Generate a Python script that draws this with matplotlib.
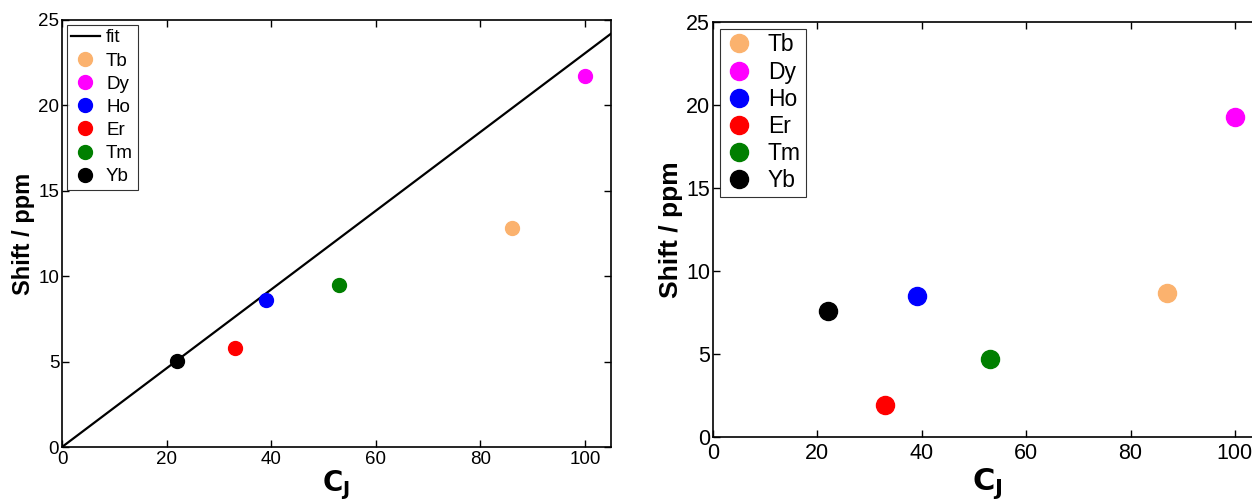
import numpy as np
import matplotlib
matplotlib.use('Agg')
import matplotlib.pyplot as plt

plt.rcParams['font.family'] = ['Liberation Sans', 'DejaVu Sans']

# data
ions = ['Tb', 'Dy', 'Ho', 'Er', 'Tm', 'Yb']
colors = ['#FBB26E', '#FF00FF', '#0000FF', '#FF0000', '#007F00', '#000000']
cj_left = [86, 100, 39, 33, 53, 22]
shift_left = [12.8, 21.7, 8.6, 5.8, 9.5, 5.05]
cj_right = [87, 100, 39, 33, 53, 22]
shift_right = [8.7, 19.3, 8.5, 1.9, 4.7, 7.6]
fit_x = [0, 105]
fit_y = [0, 24.2]

fig = plt.figure(figsize=(12.52, 5.0), dpi=100)
W, H = 1252.0, 500.0
ax1 = fig.add_axes([62 / W, 1 - 447 / H, (611 - 62) / W, (447 - 20) / H])
ax2 = fig.add_axes([713 / W, 1 - 437 / H, (1261 - 713) / W, (437 - 22) / H])


def style(ax, fs, lfs, xpad, tpad):
    ax.set_xlim(0, 105)
    ax.set_ylim(0, 25)
    ax.set_xticks([0, 20, 40, 60, 80, 100])
    ax.set_yticks([0, 5, 10, 15, 20, 25])
    ax.tick_params(direction='in', top=True, right=True, labelsize=fs, length=5, width=1)
    ax.tick_params(axis='x', pad=tpad)
    ax.tick_params(axis='y', pad=2)
    for s in ax.spines.values():
        s.set_linewidth(1.2)
    ax.set_ylabel('Shift / ppm', fontsize=lfs, fontweight='bold', labelpad=2)
    ax.set_xlabel(r'$\mathbf{C_J}$', fontsize=lfs + 3, labelpad=xpad)


ax1.plot(fit_x, fit_y, color='black', lw=1.6, label='fit')
for n, c, x, y in zip(ions, colors, cj_left, shift_left):
    ax1.plot(x, y, 'o', color=c, ms=10, label=n)
style(ax1, 13.5, 17, 0, 3)
leg = ax1.legend(loc='upper left', fontsize=13.5, frameon=True, fancybox=False,
                 borderpad=0.25, labelspacing=0.32, handlelength=1.5, handletextpad=0.35,
                 borderaxespad=0.25)
leg.get_frame().set_edgecolor('black')
leg.get_frame().set_linewidth(0.8)

for n, c, x, y in zip(ions, colors, cj_right, shift_right):
    ax2.plot(x, y, 'o', color=c, ms=13, label=n)
style(ax2, 15.5, 19, 2, 4)
leg2 = ax2.legend(loc='upper left', fontsize=16.5, frameon=True, fancybox=False,
                  borderpad=0.2, labelspacing=0.18, handlelength=1.3, handletextpad=0.6,
                  borderaxespad=0.3)
leg2.get_frame().set_edgecolor('black')
leg2.get_frame().set_linewidth(0.8)

plt.savefig('out.png', dpi=100)
